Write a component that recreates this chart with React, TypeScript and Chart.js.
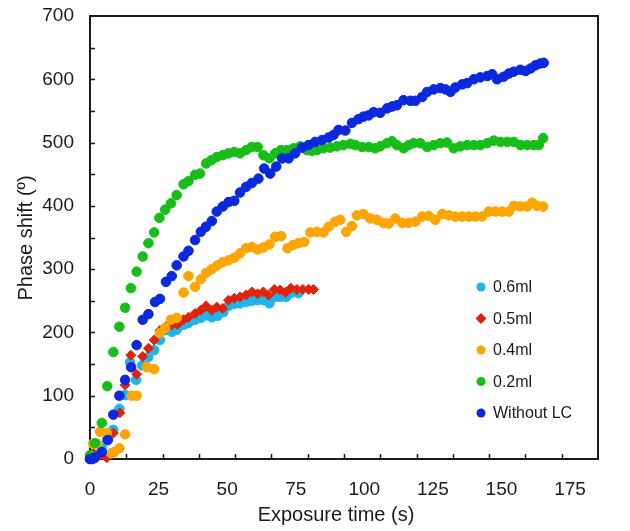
import React, { useEffect, useRef } from "react";
import { Chart, registerables } from "chart.js";

Chart.register(...registerables);

// ---------- data (time in s, phase shift in degrees) ----------
const blueT = [0, 0.9, 1.8, 4.3, 6.5, 8.5, 10.7, 12.8, 15.0, 17.0, 19.2, 21.3, 23.7, 25.5, 27.7, 29.8, 31.6, 34.1, 35.9, 38.3, 40.4, 42.3, 44.4, 46.2, 48.4, 50.5, 52.6, 54.7, 56.9, 59.0, 61.4, 63.5, 65.7, 67.9, 70.0, 72.4, 74.8, 77.3, 79.7, 82.1, 84.6, 87.0, 88.8, 90.6, 93.1, 95.5, 97.9, 99.7, 101.6, 103.4, 105.8, 108.3, 110.1, 111.9, 114.3, 116.8, 118.6, 121.1, 122.9, 125.3, 127.7, 129.6, 131.4, 133.2, 135.7, 137.5, 139.9, 142.3, 144.8, 146.6, 148.4, 150.8, 152.7, 154.5, 156.9, 158.8, 160.6, 162.4, 164.2, 165.4];
const blueV = [0, 0, 2, 11, 30, 70, 100, 125, 145, 180, 220, 229, 248, 253, 280, 289, 306, 320, 329, 346, 359, 367, 376, 391, 399, 406, 408, 421, 430, 436, 443, 459, 451, 462, 475, 475, 483, 492, 496, 501, 504, 508, 512, 520, 519, 531, 537, 541, 543, 548, 547, 554, 557, 559, 567, 566, 566, 572, 580, 584, 586, 584, 580, 587, 592, 594, 600, 603, 605, 608, 600, 604, 609, 612, 615, 613, 617, 622, 625, 626];

const greenT = [0, 1.8, 4.3, 6.3, 8.5, 10.7, 12.8, 14.9, 17.0, 19.2, 21.3, 23.4, 25.3, 27.4, 29.5, 31.6, 34.1, 35.9, 38.3, 40.1, 42.3, 44.2, 46.2, 48.4, 50.5, 52.6, 54.7, 56.9, 59.0, 61.1, 63.2, 65.4, 67.5, 69.6, 71.8, 74.2, 76.6, 79.1, 80.9, 82.7, 85.1, 87.6, 90.0, 92.4, 94.9, 96.7, 99.2, 101.6, 104.0, 105.8, 108.3, 110.1, 111.9, 114.3, 116.2, 118.0, 120.4, 122.9, 125.3, 127.7, 130.2, 132.6, 135.0, 137.5, 139.9, 142.3, 144.8, 147.2, 149.6, 152.1, 154.5, 156.9, 159.4, 161.8, 163.6, 165.2];
const greenV = [6, 25, 57, 115, 169, 209, 239, 270, 296, 320, 341, 358, 381, 394, 404, 417, 434, 439, 449, 451, 467, 472, 477, 480, 483, 485, 483, 488, 493, 493, 480, 475, 483, 488, 488, 491, 494, 488, 487, 488, 491, 492, 494, 496, 498, 496, 493, 493, 491, 494, 499, 502, 496, 491, 496, 499, 499, 493, 496, 499, 500, 491, 494, 496, 496, 496, 499, 503, 501, 501, 501, 496, 496, 496, 496, 507];

const orangeT = [1.1, 2.6, 3.6, 6.1, 7.7, 8.9, 10.7, 12.8, 15.2, 17.0, 20.7, 23.4, 25.5, 27.4, 29.5, 31.6, 34.1, 35.9, 38.3, 40.4, 42.3, 44.4, 46.4, 48.4, 50.5, 52.6, 54.7, 56.9, 59.0, 61.1, 63.2, 65.4, 67.5, 69.7, 72.0, 74.0, 76.0, 78.1, 80.3, 82.7, 85.1, 87.0, 89.4, 91.2, 93.4, 95.5, 97.3, 99.7, 102.2, 104.6, 107.0, 108.9, 111.3, 113.8, 116.2, 118.6, 121.1, 123.5, 125.9, 128.4, 130.8, 133.2, 135.7, 138.1, 140.5, 143.0, 145.4, 147.8, 150.3, 152.7, 154.5, 156.9, 159.4, 161.2, 163.0, 165.2];
const orangeV = [24, 24, 43, 41, 9, 11, 17, 39, 100, 100, 145, 142, 199, 207, 220, 223, 263, 289, 272, 284, 294, 300, 306, 311, 314, 318, 325, 333, 335, 331, 334, 339, 351, 352, 333, 338, 341, 343, 358, 359, 358, 367, 375, 378, 359, 368, 385, 387, 380, 378, 373, 372, 380, 373, 373, 375, 383, 384, 378, 387, 385, 383, 383, 383, 383, 383, 391, 391, 391, 391, 400, 399, 399, 405, 400, 399];

const redT = [0, 1.1, 3.6, 6.1, 8.5, 10.9, 12.8, 14.9, 17.0, 19.2, 21.3, 23.4, 25.5, 27.7, 29.8, 31.9, 34.1, 35.9, 38.3, 40.4, 42.3, 44.4, 46.2, 48.4, 50.5, 52.6, 54.7, 56.9, 59.0, 61.1, 63.2, 65.1, 67.2, 69.3, 71.2, 73.2, 75.4, 77.6, 79.7, 81.5];
const redV = [0, 9, 6, 2, 41, 73, 117, 164, 134, 162, 175, 188, 203, 209, 212, 213, 220, 224, 230, 235, 242, 235, 240, 238, 251, 254, 256, 259, 264, 261, 264, 259, 268, 267, 263, 270, 268, 268, 268, 268];

const cyanT = [0, 1.8, 4.3, 6.2, 8.5, 10.7, 12.8, 14.6, 16.8, 19.0, 21.2, 23.4, 25.5, 28.0, 29.9, 31.6, 34.1, 35.9, 38.3, 40.4, 42.3, 44.4, 46.5, 48.6, 50.5, 52.6, 54.7, 56.9, 59.0, 61.1, 63.2, 65.4, 67.5, 69.3, 71.5, 73.2, 76.0];
const cyanV = [0, 6, 17, 30, 46, 79, 101, 153, 125, 148, 161, 172, 188, 204, 201, 204, 212, 215, 220, 223, 227, 224, 226, 232, 242, 245, 246, 248, 250, 251, 251, 246, 256, 256, 256, 262, 262];

const xTicks = [0, 25, 50, 75, 100, 125, 150, 175];
const yTicks = [0, 100, 200, 300, 400, 500, 600, 700];

const seriesNames = ["0.6ml", "0.5ml", "0.4ml", "0.2ml", "Without LC"];
const seriesColors = ["#1eb4ec", "#e0230a", "#ffa500", "#18be18", "#0a28dc"];
const seriesShapes = ["circle", "rectRot", "circle", "circle", "circle"];

const FONT = "'Liberation Sans', Arial, Helvetica, sans-serif";
const INK = "#1a1a1a";

const pts = (t: number[], v: number[]) => t.map((x, i) => ({ x, y: v[i] }));

const decorPlugin = {
  id: "decor",
  beforeDatasetsDraw(chart: any) {
    const { ctx, chartArea: a, scales } = chart;
    ctx.save();
    ctx.strokeStyle = INK;
    ctx.lineWidth = 2;
    ctx.strokeRect(a.left, a.top, a.right - a.left, a.bottom - a.top);
    ctx.lineWidth = 1.5;
    const xs = scales.x;
    const ys = scales.y;
    ctx.beginPath();
    for (let i = 1; i < 14; i++) {
      const v = xs.min + ((xs.max - xs.min) * i) / 14;
      const px = Math.round(xs.getPixelForValue(v)) + 0.5;
      ctx.moveTo(px, a.bottom);
      ctx.lineTo(px, a.bottom - 5);
    }
    for (let v = 50; v < 700; v += 50) {
      const py = Math.round(ys.getPixelForValue(v)) + 0.5;
      ctx.moveTo(a.left, py);
      ctx.lineTo(a.left + 5, py);
    }
    ctx.stroke();
    ctx.restore();
  },
  afterDraw(chart: any) {
    const { ctx } = chart;
    ctx.save();
    ctx.fillStyle = INK;
    // axis titles
    ctx.font = `20px ${FONT}`;
    ctx.textAlign = "center";
    ctx.textBaseline = "middle";
    ctx.fillText("Exposure time (s)", 336, 515);
    ctx.save();
    ctx.translate(26, 238);
    ctx.rotate(-Math.PI / 2);
    ctx.fillText("Phase shift (º)", 0, 0);
    ctx.restore();
    // legend
    ctx.font = `16px ${FONT}`;
    ctx.textAlign = "left";
    for (let i = 0; i < seriesNames.length; i++) {
      const cy = 287 + i * 31.5;
      const cx = 481;
      ctx.fillStyle = seriesColors[i];
      ctx.beginPath();
      if (seriesShapes[i] === "rectRot") {
        const r = 5.5;
        ctx.moveTo(cx, cy - r);
        ctx.lineTo(cx + r, cy);
        ctx.lineTo(cx, cy + r);
        ctx.lineTo(cx - r, cy);
        ctx.closePath();
      } else {
        ctx.arc(cx, cy, 4.5, 0, Math.PI * 2);
      }
      ctx.fill();
      ctx.fillStyle = INK;
      ctx.fillText(seriesNames[i], 493, cy + 1);
    }
    ctx.restore();
  },
};

export default function App() {
  const ref = useRef<HTMLCanvasElement | null>(null);
  useEffect(() => {
    if (!ref.current) return;
    const mk = (i: number, data: any[], order: number) => ({
      label: seriesNames[i],
      data,
      backgroundColor: seriesColors[i],
      borderColor: seriesColors[i],
      pointStyle: seriesShapes[i],
      pointRadius: seriesShapes[i] === "rectRot" ? 5 : 4.8,
      pointBorderWidth: 1,
      showLine: false,
      clip: false as any,
      order,
    });
    const chart = new Chart(ref.current, {
      type: "scatter",
      data: {
        datasets: [
          mk(0, pts(cyanT, cyanV), 4),
          mk(1, pts(redT, redV), 3),
          mk(2, pts(orangeT, orangeV), 2),
          mk(3, pts(greenT, greenV), 1),
          mk(4, pts(blueT, blueV), 0),
        ],
      },
      options: {
        animation: false,
        responsive: true,
        maintainAspectRatio: false,
        layout: { autoPadding: false, padding: { left: 0, top: 16, right: 32, bottom: 0 } },
        plugins: { legend: { display: false }, tooltip: { enabled: false } },
        scales: {
          x: {
            type: "linear",
            min: 0,
            max: 185.2,
            grid: { display: false, drawTicks: false },
            border: { display: false },
            afterFit: (s: any) => {
              s.height = 72;
              s.paddingLeft = 0;
              s.paddingRight = 0;
            },
            afterBuildTicks: (s: any) => {
              s.ticks = xTicks.map((v) => ({ value: v }));
            },
            ticks: {
              padding: 19,
              color: INK,
              font: { family: FONT, size: 19 },
              maxRotation: 0,
              autoSkip: false,
            },
          },
          y: {
            type: "linear",
            min: 0,
            max: 700,
            grid: { display: false, drawTicks: false },
            border: { display: false },
            afterFit: (s: any) => {
              s.width = 90;
              s.paddingTop = 0;
              s.paddingBottom = 0;
            },
            afterBuildTicks: (s: any) => {
              s.ticks = yTicks.map((v) => ({ value: v }));
            },
            ticks: {
              padding: 16,
              color: INK,
              font: { family: FONT, size: 19 },
              autoSkip: false,
            },
          },
        },
      },
      plugins: [decorPlugin],
    });
    return () => chart.destroy();
  }, []);
  return (
    <div style={{ position: "fixed", left: 0, top: 0, width: 630, height: 531, background: "#fff" }}>
      <canvas ref={ref} />
    </div>
  );
}
